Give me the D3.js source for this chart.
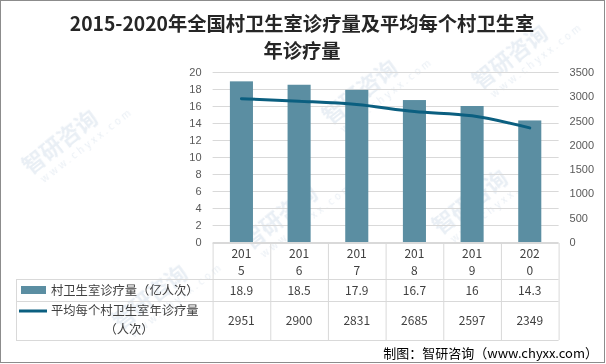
<!DOCTYPE html>
<html><head><meta charset="utf-8">
<script src="https://cdn.jsdelivr.net/npm/d3@7"></script>
<style>body{margin:0;background:#fff}svg{display:block}</style>
</head><body><svg id="c" width="606" height="364"></svg>
<script>
const years = ["2015","2016","2017","2018","2019","2020"];
const visits = [18.9,18.5,17.9,16.7,16,14.3];
const avgVisits = [2951,2900,2831,2685,2597,2349];
const leftTicks = [0,2,4,6,8,10,12,14,16,18,20];
const rightTicks = [0,500,1000,1500,2000,2500,3000,3500];
const seriesNames = ["村卫生室诊疗量（亿人次）","平均每个村卫生室年诊疗量","（人次）"];
const title = ["2015-2020年全国村卫生室诊疗量及平均每个村卫生室","年诊疗量"];
const source = "制图：智研咨询（www.chyxx.com）";

const svg = d3.select("#c");
const font = "'Noto Sans CJK SC','Noto Sans',sans-serif";
const L = 212.6, R = 558.6, T = 72, B = 242;
const x = d3.scaleBand().domain(years).range([L,R]);
const yL = d3.scaleLinear().domain([0,20]).range([B,T]);
const yR = d3.scaleLinear().domain([0,3500]).range([B,T]);
const barColor = "#5b8ea2", lineColor = "#0b5f80", gridColor = "#d9d9d9";

// watermark
const wm = svg.append("g").attr("fill","#d3deea").attr("opacity",0.5).attr("font-family",font);
[[30,175],[250,250],[440,235],[120,330],[330,125],[480,90]].forEach(([wx,wy])=>{
  const g = wm.append("g").attr("transform",`translate(${wx},${wy}) rotate(-38)`);
  g.append("text").attr("font-size",22).attr("font-weight","bold").text("智研咨询");
  g.append("text").attr("font-size",10).attr("y",15).attr("x",6).attr("letter-spacing",3).text("www.chyxx.com");
});

// grid
svg.append("g").selectAll("line").data(leftTicks).join("line")
  .attr("x1",L).attr("x2",R).attr("y1",d=>yL(d)+0.5).attr("y2",d=>yL(d)+0.5)
  .attr("stroke",gridColor);

// axis labels
const axL = svg.append("g").attr("transform",`translate(${L},0)`)
  .call(d3.axisLeft(yL).tickValues(leftTicks).tickSize(0).tickPadding(11));
axL.select(".domain").remove();
axL.selectAll("text").attr("fill","#595959").attr("font-size",11).attr("font-family","'Liberation Sans',sans-serif");
const axR = svg.append("g").attr("transform",`translate(${R},0)`)
  .call(d3.axisRight(yR).tickValues(rightTicks).tickFormat(d3.format("d")).tickSize(0).tickPadding(11));
axR.select(".domain").remove();
axR.selectAll("text").attr("fill","#595959").attr("font-size",11).attr("font-family","'Liberation Sans',sans-serif");

// bars
const bw = x.bandwidth()*0.4;
svg.append("g").selectAll("rect").data(years).join("rect")
  .attr("x",d=>x(d)+x.bandwidth()/2-bw/2).attr("width",bw)
  .attr("y",(d,i)=>yL(visits[i])).attr("height",(d,i)=>B-yL(visits[i]))
  .attr("fill",barColor);

// line
const line = d3.line().x((d,i)=>x(years[i])+x.bandwidth()/2).y(d=>yR(d)).curve(d3.curveMonotoneX);
svg.append("path").datum(avgVisits).attr("d",line).attr("fill","none")
  .attr("stroke",lineColor).attr("stroke-width",3).attr("stroke-linecap","round");

// table
const tY0 = 243, tY1 = 279, tY2 = 301, tY3 = 340, tL = 16;
const tg = svg.append("g").attr("stroke",gridColor).attr("stroke-width",1);
tg.append("line").attr("x1",L).attr("x2",R).attr("y1",tY0+0.5).attr("y2",tY0+0.5);
[tY1,tY2,tY3].forEach(yy=>tg.append("line").attr("x1",tL).attr("x2",R).attr("y1",yy+0.5).attr("y2",yy+0.5));
years.concat(["end"]).forEach((d,i)=>{
  const xx = i<years.length ? x(d) : R;
  tg.append("line").attr("x1",xx+0.5).attr("x2",xx+0.5).attr("y1",tY0).attr("y2",tY3);
});
tg.append("line").attr("x1",tL+0.5).attr("x2",tL+0.5).attr("y1",tY1).attr("y2",tY3);

const tt = svg.append("g").attr("font-family",font).attr("fill","#404040").attr("font-size",12).attr("text-anchor","middle");
years.forEach((d,i)=>{
  const cx = x(d)+x.bandwidth()/2;
  tt.append("text").attr("x",cx).attr("y",258).text(d.slice(0,3));
  tt.append("text").attr("x",cx).attr("y",275).text(d.slice(3));
  tt.append("text").attr("x",cx).attr("y",295).text(visits[i]);
  tt.append("text").attr("x",cx).attr("y",325).text(avgVisits[i]);
});

// legend in table
svg.append("rect").attr("x",21).attr("y",286).attr("width",25).attr("height",8).attr("fill",barColor);
svg.append("line").attr("x1",19).attr("x2",47).attr("y1",311).attr("y2",311).attr("stroke",lineColor).attr("stroke-width",3);
const lg = svg.append("g").attr("font-family",font).attr("fill","#404040").attr("font-size",12.3);
lg.append("text").attr("x",51).attr("y",295).text(seriesNames[0]);
lg.append("text").attr("x",51).attr("y",315).text(seriesNames[1]);
lg.append("text").attr("x",129).attr("y",334).attr("text-anchor","middle").text(seriesNames[2]);

// title
const tl = svg.append("g").attr("font-family",font).attr("font-weight","bold").attr("font-size",19.3).attr("fill","#262626").attr("text-anchor","middle");
tl.append("text").attr("x",302).attr("y",31).text(title[0]);
tl.append("text").attr("x",302).attr("y",58).text(title[1]);

// source
svg.append("text").attr("x",598).attr("y",358).attr("text-anchor","end").attr("font-family",font)
  .attr("font-size",13).attr("fill","#000").text(source);

// border
svg.append("rect").attr("x",0.5).attr("y",0.5).attr("width",604).attr("height",362).attr("fill","none").attr("stroke","#8c8c8c");
</script></body></html>
